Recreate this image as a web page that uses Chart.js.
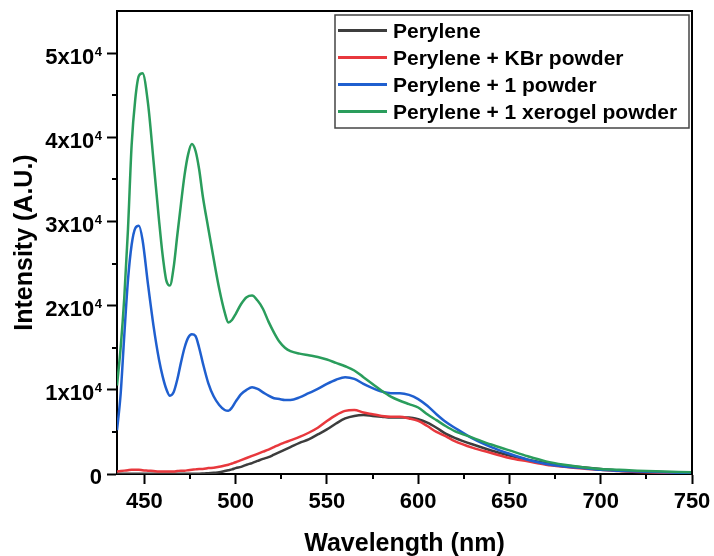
<!DOCTYPE html>
<html>
<head>
<meta charset="utf-8">
<script src="https://cdn.jsdelivr.net/npm/chart.js@4.4.1/dist/chart.umd.min.js"></script>
<style>
  html, body { margin: 0; padding: 0; background: #fff; }
  canvas { display: block; }
</style>
</head>
<body>
<canvas id="myChart" width="714" height="556"></canvas>
<script>
// wavelength (nm)
const wavelengths = [
    435, 437, 439, 441, 443, 445, 447, 449, 452, 455,
    458, 460, 462, 464, 466, 468, 470, 472, 474, 476,
    478, 480, 482, 485, 488, 491, 494, 496, 498, 500,
    503, 506, 509, 512, 515, 518, 521, 524, 527, 530,
    535, 540, 545, 550, 555, 560, 565, 570, 575, 580,
    585, 590, 595, 600, 605, 610, 615, 620, 630, 640,
    650, 660, 670, 680, 690, 700, 710, 720, 735, 750
];

// intensities, in units of 10^4 A.U.
const perylene = [
    0.003, 0.003, 0.003, 0.003, 0.003, 0.003, 0.003, 0.003, 0.003, 0.003,
    0.003, 0.003, 0.003, 0.003, 0.003, 0.003, 0.003, 0.003, 0.003, 0.003,
    0.003, 0.003, 0.005, 0.010, 0.015, 0.020, 0.035, 0.045, 0.055, 0.070,
    0.085, 0.110, 0.130, 0.155, 0.180, 0.200, 0.230, 0.260, 0.290, 0.320,
    0.370, 0.410, 0.470, 0.530, 0.600, 0.660, 0.690, 0.700, 0.690, 0.680,
    0.670, 0.670, 0.670, 0.650, 0.610, 0.550, 0.480, 0.430, 0.350, 0.280,
    0.220, 0.170, 0.130, 0.100, 0.080, 0.060, 0.040, 0.030, 0.020, 0.010
];
const peryleneKBr = [
    0.030, 0.035, 0.040, 0.045, 0.050, 0.050, 0.050, 0.045, 0.040, 0.035,
    0.030, 0.030, 0.030, 0.030, 0.030, 0.035, 0.040, 0.040, 0.045, 0.050,
    0.055, 0.060, 0.060, 0.070, 0.075, 0.085, 0.100, 0.110, 0.125, 0.140,
    0.165, 0.190, 0.215, 0.240, 0.265, 0.290, 0.320, 0.350, 0.375, 0.400,
    0.440, 0.490, 0.550, 0.630, 0.700, 0.750, 0.760, 0.730, 0.710, 0.690,
    0.680, 0.680, 0.660, 0.630, 0.570, 0.500, 0.450, 0.390, 0.310, 0.250,
    0.190, 0.150, 0.110, 0.085, 0.065, 0.050, 0.035, 0.025, 0.015, 0.010
];
const perylene1 = [
    0.52, 0.95, 1.65, 2.30, 2.72, 2.92, 2.95, 2.78, 2.25, 1.76,
    1.36, 1.16, 1.01, 0.93, 0.97, 1.12, 1.32, 1.50, 1.62, 1.66,
    1.64, 1.50, 1.32, 1.08, 0.92, 0.82, 0.76, 0.75, 0.79, 0.86,
    0.95, 1.00, 1.03, 1.01, 0.97, 0.93, 0.90, 0.89, 0.88, 0.88,
    0.91, 0.96, 1.01, 1.07, 1.12, 1.15, 1.13, 1.07, 1.02, 0.98,
    0.96, 0.96, 0.94, 0.89, 0.81, 0.71, 0.62, 0.55, 0.42, 0.32,
    0.24, 0.17, 0.12, 0.09, 0.07, 0.05, 0.04, 0.03, 0.02, 0.01
];
const perylene1Xerogel = [
    1.05, 1.50, 2.10, 2.90, 3.90, 4.45, 4.73, 4.76, 4.40, 3.72,
    3.02, 2.60, 2.30, 2.24, 2.45, 2.83, 3.20, 3.55, 3.80, 3.92,
    3.84, 3.62, 3.30, 2.92, 2.55, 2.20, 1.92, 1.80, 1.83, 1.90,
    2.02, 2.10, 2.12, 2.06, 1.96, 1.81, 1.68, 1.57, 1.50, 1.46,
    1.43, 1.41, 1.39, 1.36, 1.32, 1.28, 1.23, 1.15, 1.07, 0.99,
    0.92, 0.87, 0.83, 0.79, 0.71, 0.64, 0.57, 0.51, 0.43, 0.35,
    0.28, 0.21, 0.15, 0.11, 0.08, 0.06, 0.05, 0.04, 0.03, 0.02
];

const seriesLabels = ['Perylene', 'Perylene + KBr powder', 'Perylene + 1 powder', 'Perylene + 1 xerogel powder'];
const seriesColors = ['#3d3d3d', '#e8383d', '#1f5fcf', '#2a9d5c'];

const xMajor = [450, 500, 550, 600, 650, 700, 750];
const xMinor = [475, 525, 575, 625, 675, 725];
const yMajor = [0, 1, 2, 3, 4, 5];
const yMinor = [0.5, 1.5, 2.5, 3.5, 4.5];

const FONT = '"Liberation Sans", Arial, sans-serif';

function points(values) {
    return wavelengths.map((w, i) => ({ x: w, y: values[i] }));
}

const allSeries = [perylene, peryleneKBr, perylene1, perylene1Xerogel];
const datasets = allSeries.map((values, i) => ({
    label: seriesLabels[i],
    data: points(values),
    borderColor: seriesColors[i],
    backgroundColor: seriesColors[i],
    borderWidth: 2.5,
    pointRadius: 0,
    cubicInterpolationMode: 'monotone',
    order: 4 - i
}));

const extras = {
    id: 'extras',
    afterDraw(chart) {
        const { ctx, chartArea: a, scales } = chart;
        const x = scales.x, y = scales.y;
        ctx.save();

        // top and right frame
        ctx.strokeStyle = '#000';
        ctx.lineWidth = 2;
        ctx.beginPath();
        ctx.moveTo(a.left, a.top);
        ctx.lineTo(a.right, a.top);
        ctx.lineTo(a.right, a.bottom);
        ctx.stroke();

        // minor ticks
        ctx.beginPath();
        xMinor.forEach(v => {
            const px = Math.round(x.getPixelForValue(v));
            ctx.moveTo(px, a.bottom);
            ctx.lineTo(px, a.bottom + 5);
        });
        yMinor.forEach(v => {
            const py = Math.round(y.getPixelForValue(v));
            ctx.moveTo(a.left, py);
            ctx.lineTo(a.left - 5, py);
        });
        ctx.stroke();

        ctx.fillStyle = '#000';

        // x tick labels
        ctx.font = 'bold 22px ' + FONT;
        ctx.textAlign = 'center';
        ctx.textBaseline = 'alphabetic';
        xMajor.forEach(v => {
            ctx.fillText(String(v), x.getPixelForValue(v), 508);
        });

        // y tick labels with superscript
        yMajor.forEach(v => {
            const py = y.getPixelForValue(v);
            const right = 102;
            if (v === 0) {
                ctx.font = 'bold 22px ' + FONT;
                ctx.textAlign = 'right';
                ctx.fillText('0', right, py + 9.5);
                return;
            }
            ctx.font = 'bold 13px ' + FONT;
            const supW = ctx.measureText('4').width;
            ctx.textAlign = 'left';
            ctx.fillText('4', right - supW, py + 2.5);
            ctx.font = 'bold 22px ' + FONT;
            ctx.textAlign = 'right';
            ctx.fillText(v + 'x10', right - supW - 0.5, py + 10.5);
        });

        // axis titles
        ctx.font = 'bold 25px ' + FONT;
        ctx.textAlign = 'center';
        ctx.fillText('Wavelength (nm)', (a.left + a.right) / 2, 551);
        ctx.save();
        ctx.translate(32, (a.top + a.bottom) / 2);
        ctx.rotate(-Math.PI / 2);
        ctx.fillText('Intensity (A.U.)', 0, 0);
        ctx.restore();

        // legend
        const box = { left: 335, top: 15, right: 689, bottom: 128 };
        ctx.fillStyle = '#fff';
        ctx.fillRect(box.left, box.top, box.right - box.left, box.bottom - box.top);
        ctx.strokeStyle = '#444';
        ctx.lineWidth = 1.5;
        ctx.strokeRect(box.left, box.top, box.right - box.left, box.bottom - box.top);
        ctx.font = 'bold 21px ' + FONT;
        ctx.textAlign = 'left';
        chart.data.datasets.forEach((ds, i) => {
            const ry = 30.5 + i * 27;
            ctx.strokeStyle = ds.borderColor;
            ctx.lineWidth = 3;
            ctx.beginPath();
            ctx.moveTo(338, ry);
            ctx.lineTo(387, ry);
            ctx.stroke();
            ctx.fillStyle = '#000';
            ctx.fillText(ds.label, 393, ry + 7);
        });

        ctx.restore();
    }
};

const ctx = document.getElementById('myChart').getContext('2d');
const myChart = new Chart(ctx, {
    type: 'line',
    data: { datasets: datasets },
    plugins: [extras],
    options: {
        responsive: false,
        animation: false,
        devicePixelRatio: 1,
        layout: { padding: { left: 107, top: 11, right: 22, bottom: 72 } },
        scales: {
            x: {
                type: 'linear',
                min: 435,
                max: 750,
                afterBuildTicks: scale => { scale.ticks = xMajor.map(v => ({ value: v })); },
                ticks: { display: false },
                grid: { drawOnChartArea: false, drawTicks: true, tickLength: 10, tickWidth: 2, tickColor: '#000' },
                border: { display: true, width: 2, color: '#000' }
            },
            y: {
                min: 0,
                max: 5.5,
                afterBuildTicks: scale => { scale.ticks = yMajor.map(v => ({ value: v })); },
                ticks: { display: false },
                grid: { drawOnChartArea: false, drawTicks: true, tickLength: 10, tickWidth: 2, tickColor: '#000' },
                border: { display: true, width: 2, color: '#000' }
            }
        },
        plugins: {
            legend: { display: false },
            tooltip: { enabled: false }
        }
    }
});
</script>
</body>
</html>
